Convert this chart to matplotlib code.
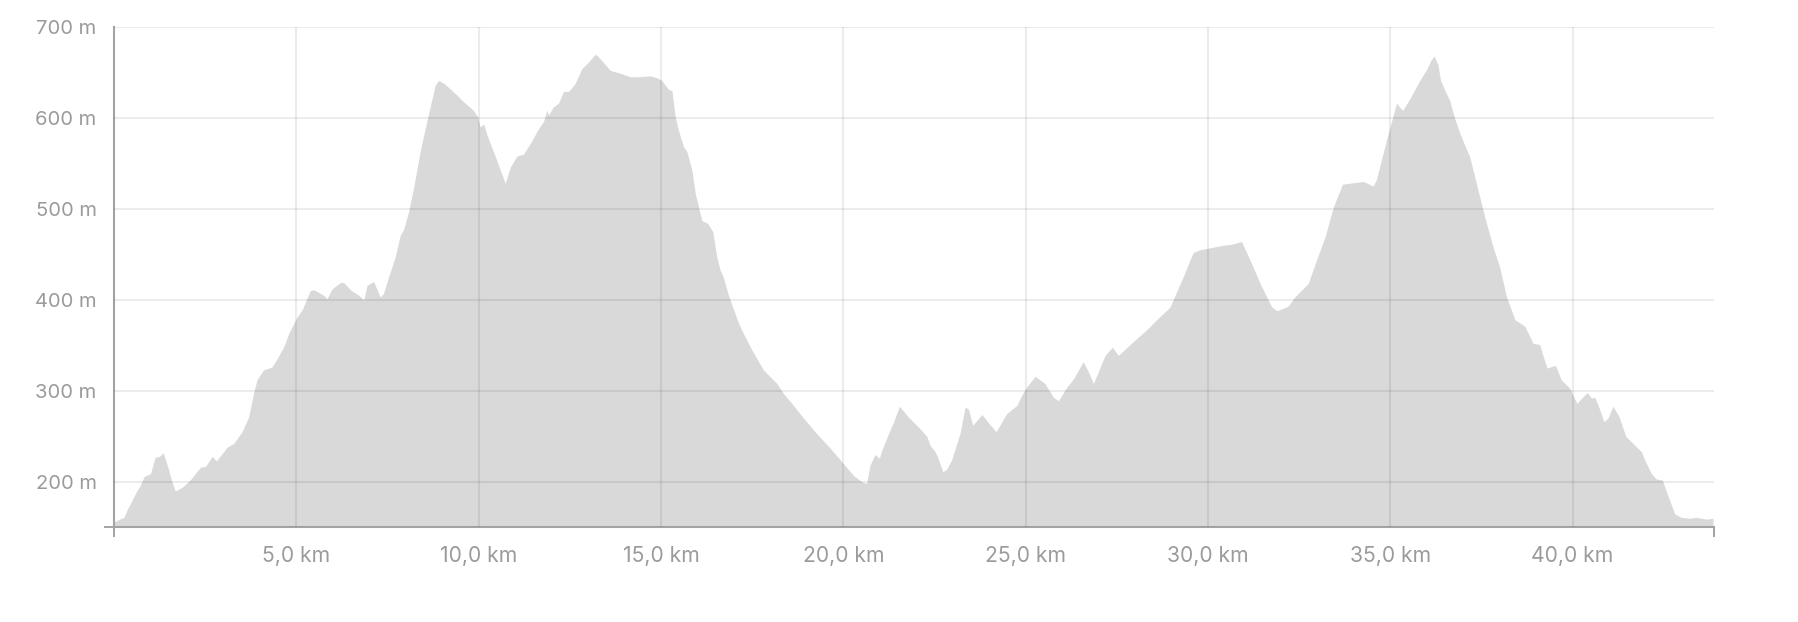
import matplotlib.pyplot as plt
from matplotlib.ticker import FixedLocator

# distance (km) and elevation (m)
distance_km = [
    0.0, 0.27, 0.38, 0.5, 0.61, 0.72, 0.83, 1.0, 1.13, 1.25, 1.35, 1.5, 1.59, 1.68,
    1.87, 2.09, 2.37, 2.51, 2.69, 2.81, 3.1, 3.28, 3.51, 3.69, 3.83, 3.92, 4.1, 4.33,
    4.47, 4.65, 4.79, 5.02, 5.16, 5.38, 5.48, 5.75, 5.84, 5.98, 6.21, 6.3, 6.48, 6.71,
    6.85, 6.94, 7.12, 7.3, 7.39, 7.53, 7.71, 7.85, 7.94, 8.08, 8.22, 8.4, 8.63, 8.81,
    8.9, 9.04, 9.27, 9.5, 9.63, 9.86, 9.97, 10.04, 10.14, 10.23, 10.46, 10.73, 10.87,
    11.05, 11.23, 11.42, 11.64, 11.78, 11.87, 11.92, 12.05, 12.19, 12.33, 12.47, 12.65,
    12.83, 13.01, 13.2, 13.33, 13.61, 13.88, 14.16, 14.34, 14.7, 14.89, 15.02, 15.21,
    15.3, 15.39, 15.48, 15.62, 15.71, 15.85, 15.94, 16.12, 16.28, 16.42, 16.53, 16.62,
    16.71, 16.85, 17.13, 17.26, 17.49, 17.81, 18.18, 18.36, 18.63, 18.91, 19.27, 19.64,
    19.96, 20.28, 20.51, 20.64, 20.73, 20.87, 20.99, 21.06, 21.24, 21.36, 21.54, 21.79,
    22.09, 22.29, 22.38, 22.52, 22.58, 22.73, 22.84, 22.97, 23.2, 23.34, 23.43, 23.55,
    23.8, 24.02, 24.19, 24.48, 24.76, 24.89, 25.03, 25.26, 25.53, 25.76, 25.9, 26.13,
    26.31, 26.58, 26.72, 26.86, 27.18, 27.38, 27.54, 27.63, 27.95, 28.32, 28.59, 28.96,
    29.12, 29.32, 29.51, 29.6, 29.78, 30.05, 30.42, 30.65, 30.92, 31.15, 31.43, 31.75,
    31.9, 32.2, 32.38, 32.75, 32.98, 33.21, 33.44, 33.69, 34.26, 34.53, 34.62, 34.9,
    35.17, 35.34, 35.54, 35.81, 36.01, 36.1, 36.2, 36.31, 36.38, 36.5, 36.63, 36.77,
    36.91, 37.0, 37.18, 37.36, 37.59, 37.82, 38.0, 38.19, 38.42, 38.69, 38.92, 39.1,
    39.17, 39.3, 39.53, 39.69, 39.92, 40.12, 40.27, 40.4, 40.52, 40.61, 40.73, 40.86,
    40.97, 41.11, 41.28, 41.46, 41.66, 41.89, 41.98, 42.16, 42.3, 42.46, 42.62, 42.8,
    42.98, 43.21, 43.4, 43.67, 43.85,
]
elevation_m = [
    156, 161, 171, 180, 189, 196, 206, 209, 227, 228, 232, 213, 200, 190,
    194, 202, 216, 217, 228, 223, 238, 242, 255, 271, 298, 312, 323, 326,
    335, 348, 363, 381, 389, 410, 411, 405, 401, 412, 419, 419, 411, 405,
    400, 416, 420, 403, 407, 425, 447, 471, 477, 497, 524, 564, 605, 636,
    641, 638, 630, 621, 616, 608, 601, 590, 593, 581, 557, 528, 546,
    558, 560, 572, 588, 596, 608, 603, 612, 616, 629, 629, 638,
    654, 661, 670, 665, 652, 649, 645, 645, 646, 644, 641, 631,
    630, 601, 586, 568, 563, 542, 517, 487, 484, 475, 447, 433,
    425, 405, 374, 363, 345, 323, 308, 297, 284, 270, 253, 237,
    222, 207, 200, 198, 218, 230, 226, 235, 253, 264, 283, 271,
    259, 250, 240, 233, 228, 211, 214, 224, 253, 282, 280, 262,
    274, 263, 255, 275, 284, 295, 304, 316, 308, 293, 289, 304,
    313, 332, 321, 308, 339, 348, 339, 342, 354, 367, 378, 392,
    407, 425, 444, 452, 455, 457, 460, 461, 464, 444, 418, 392,
    388, 393, 403, 418, 444, 469, 502, 527, 530, 525, 532, 576,
    616, 608, 621, 641, 654, 662, 668, 658, 641, 630, 619, 599,
    583, 574, 557, 528, 491, 458, 436, 403, 378, 371, 352, 351,
    341, 325, 328, 312, 303, 286, 293, 298, 292, 293, 281, 266,
    270, 283, 271, 250, 242, 233, 224, 209, 203, 202, 184, 165,
    161, 160, 161, 159, 160,
]

y_ticks = [200, 300, 400, 500, 600, 700]
x_ticks = [5, 10, 15, 20, 25, 30, 35, 40]
x_max = 43.88
y_min, y_max = 150, 700

text_color = '#9b9b9b'
axis_color = '#a3a3a3'

plt.rcParams['font.family'] = ['Inter', 'DejaVu Sans']

fig = plt.figure(figsize=(17.98, 6.22), dpi=100)
ax = fig.add_axes([0.0634, 0.1522, 0.8899, 0.8048])

ax.fill_between(distance_km, elevation_m, y_min, color='#d9d9d9', linewidth=0, zorder=1)

ax.set_xlim(0, x_max)
ax.set_ylim(y_min, y_max)

ax.set_yticks(y_ticks)
ax.set_yticklabels(['%d m' % v for v in y_ticks])
ax.set_xticks(x_ticks)
ax.set_xticklabels([('%.1f km' % v).replace('.', ',') for v in x_ticks])

# outer ticks only at the ends of each axis
ax.xaxis.set_minor_locator(FixedLocator([0, x_max]))
ax.yaxis.set_minor_locator(FixedLocator([y_min, y_max]))
ax.tick_params(which='major', length=0, labelcolor=text_color)
ax.tick_params(axis='y', which='major', pad=12.5, labelsize=14.5)
ax.tick_params(axis='x', which='major', pad=13.5, labelsize=15.2)
ax.tick_params(which='minor', length=7.5, width=1.4, color=axis_color)

ax.set_axisbelow(False)
ax.grid(True, which='major', color='black', alpha=0.075, linewidth=1.5)

for side in ['top', 'right']:
    ax.spines[side].set_visible(False)
for side in ['left', 'bottom']:
    ax.spines[side].set_color(axis_color)
    ax.spines[side].set_linewidth(1.5)

plt.savefig('out.png', dpi=100)
